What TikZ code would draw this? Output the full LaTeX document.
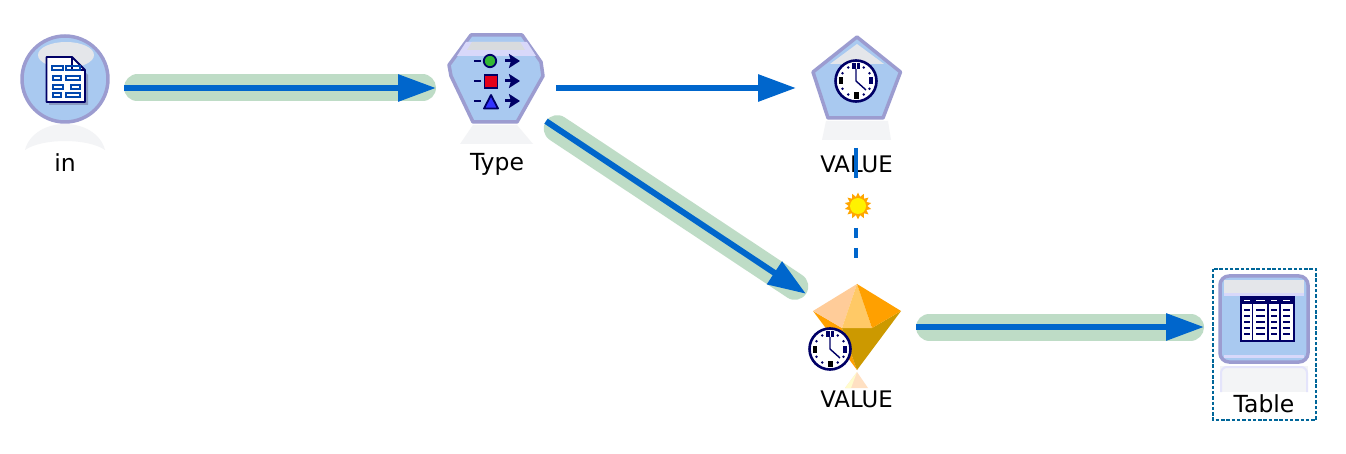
\documentclass[tikz,border=0pt]{standalone}
\usepackage{fontspec}
\setmainfont{DejaVu Sans}
\usetikzlibrary{arrows.meta,shapes.geometric}
\definecolor{iconfill}{HTML}{A9C9F0}
\definecolor{iconline}{HTML}{9C9CD0}
\definecolor{flow}{HTML}{0066CC}
\definecolor{band}{HTML}{BEDCC6}
\definecolor{navy}{HTML}{000066}
\definecolor{gleam}{HTML}{E4E6EA}
\definecolor{lav}{HTML}{D8D8FA}
\definecolor{selbox}{HTML}{006699}
\definecolor{gemA}{HTML}{FFCC99}
\definecolor{gemB}{HTML}{FFC966}
\definecolor{gemC}{HTML}{FFA000}
\definecolor{gemD}{HTML}{CC9900}
\definecolor{mirror}{HTML}{F3F4F6}
\tikzset{
  port/.style={circle,minimum size=#1,inner sep=0pt,outer sep=0pt,draw=none},
  port/.default=120pt,
  iconbody/.style={fill=iconfill,draw=iconline,line width=3.5pt,line join=round},
  glow/.style={fill=mirror,draw=none},
  caption/.style={font=\fontsize{23.5}{26}\selectfont,text=black,inner sep=0pt,anchor=base},
  capnarrow/.style={caption,font=\fontsize{22.8}{26}\selectfont},
  bandline/.style={band,line width=27pt,line cap=round,shorten <=13.5pt,shorten >=13.5pt},
  flowline/.style={flow,line width=6pt,-{Triangle[length=38pt,width=26pt]}},
  feature/.style={navy,line width=2.4pt},
  glyph/.style={navy,line width=3pt,-{Stealth[length=11pt,width=14pt,inset=2pt]}},
}
\newcommand{\clockicon}[2]{%
  \begin{scope}[shift={(#1,#2)}]
    \draw[navy,line width=2.6pt,fill=white] (0,0) circle (20.5pt);
    \foreach \a in {30,60,120,150,210,240,300,330}
      \fill[navy] (\a:15.5pt) circle (1.4pt);
    \fill[navy] (-4,-18) rectangle (-0.5,-12);
    \fill[navy] (0.5,-18) rectangle (4,-12);
    \fill[black] (-2.5,11.5) rectangle (2.5,18);
    \fill[black] (-17.5,-3.5) rectangle (-13,3.5);
    \fill[navy] (13,-3.5) rectangle (17,3.5);
    \draw[navy,line width=1.4pt] (0,-12) -- (0,0) -- (10,9);
  \end{scope}}
\begin{document}
\begin{tikzpicture}[x=1pt,y=-1pt]
\useasboundingbox (0,0) rectangle (1346,454);
\fill[white] (0,0) rectangle (1346,454);

% connector ports
\node[port=118pt] (in) at (65,88) {};
\node[port] (type) at (496,88) {};
\node[port] (clock) at (856,88) {};
\node[port] (diam) at (856,327) {};
\node[port] (table) at (1264,327) {};

% connectors
\draw[bandline] (in) -- (type);
\draw[bandline] (type) -- (diam);
\draw[bandline] (diam) -- (table);
\draw[flowline] (in) -- (type);
\draw[flowline] (type) -- (clock);
\draw[flowline] (type) -- (diam);
\draw[flowline] (diam) -- (table);

% source icon
\fill[glow] (25,150) .. controls (29,134) and (46,124) .. (65,124) .. controls (84,124) and (101,134) .. (105,150) .. controls (88,138) and (42,138) .. (25,150) -- cycle;
\draw[iconbody] (65,79) circle (43pt);
\fill[gleam] (66,55) ellipse (28pt and 13pt);
\fill[iconline!70!black,opacity=.5] (49,60) -- (74,60) -- (88,75) -- (88,105) -- (49,105) -- cycle;
\draw[navy,line width=1.8pt,fill=white,line join=round] (46.5,57) -- (72,57) -- (85,70) -- (85,102) -- (46.5,102) -- cycle;
\draw[navy,line width=1.4pt] (72,57) -- (72,70) -- (85,70);
\foreach \xa/\xb/\xc/\xd/\yy in {52/63/66/80/66, 53/61/66/80/76, 53/63/71/80/85, 53/61/66/80/93}{
  \draw[flow!70!navy,line width=1.3pt] (\xa,\yy) rectangle (\xb,\yy+4);
  \draw[flow!70!navy,line width=1.3pt] (\xc,\yy) rectangle (\xd,\yy+4);
}
\node[caption] (inlabel) at (65,171.5) {in};

% type icon
\fill[glow] (473,125) -- (517,125) -- (533,144) -- (460,144) -- cycle;
\draw[iconbody] (471,35) -- (522,35) -- (541,62) -- (543,76) -- (517,122) -- (473,122) -- (451,76) -- (449,65) -- cycle;
\fill[lav] (466,42) -- (527,42) -- (536,56) -- (457,56) -- cycle;
\fill[gleam!95!black] (472,42) -- (520,42) -- (525,50) -- (467,50) -- cycle;
\draw[feature] (474,61) -- (481,61);
\draw[navy,line width=1.8pt,fill=green!65!black!80!white] (490,61) circle (6.2pt);
\draw[glyph] (505,61) -- (520,61);
\draw[feature] (474,81) -- (481,81);
\draw[navy,line width=1.8pt,fill=red!80!violet] (484.5,75) rectangle (497.5,88);
\draw[glyph] (505,81) -- (520,81);
\draw[feature] (474,101) -- (481,101);
\draw[navy,line width=1.8pt,fill=blue!80!white,line join=round] (484,108.5) -- (491,95) -- (498,108.5) -- cycle;
\draw[glyph] (505,101) -- (520,101);
\node[caption] (typelabel) at (497,170.5) {Type};

% time series icon
\fill[glow] (826,121) -- (888,121) -- (891,140) -- (822,140) -- cycle;
\draw[iconbody] (857,37) -- (900.5,72) -- (883,118) -- (828,118) -- (813,72) -- cycle;
\fill[gleam] (857,44) -- (884,64) -- (830,64) -- cycle;
\clockicon{856}{81}
\node[capnarrow] (valuea) at (856.5,172.5) {VALUE};

% model link
\draw[flow,line width=4pt,dash pattern=on 30pt off 50pt on 10pt off 10pt on 10pt off 20pt] (clock) -- (diam);
\node[star,star points=14,star point ratio=1.45,minimum size=27pt,inner sep=0pt,fill=orange!70!yellow,draw=none] (spark) at (858,206) {};
\fill[yellow] (spark.center) circle (8pt);

% generated model icon
\fill[gemA!60!white] (857,372) -- (868,388) -- (845,388) -- cycle;
\fill[yellow!20] (857,372) -- (851,388) -- (845,388) -- cycle;
\fill[gemC] (813,311) -- (842,328) -- (857,370) -- cycle;
\fill[gemD] (842,328) -- (872,328) -- (901,311) -- (857,370) -- cycle;
\fill[gemA] (857,284) -- (813,311) -- (842,328) -- cycle;
\fill[gemB] (857,284) -- (842,328) -- (872,328) -- cycle;
\fill[gemC] (857,284) -- (901,311) -- (872,328) -- cycle;
\clockicon{830}{349}
\node[capnarrow] (valueb) at (856.5,407.5) {VALUE};

% table icon
\draw[selbox,line width=1.5pt,dash pattern=on 3.5pt off 1.8pt] (1213,269) rectangle (1316,420);
\fill[glow] (1220,366) rectangle (1308,392);
\draw[lav!70,line width=2pt,rounded corners=6pt] (1221,392) -- (1221,367) -- (1307,367) -- (1307,392);
\draw[iconbody,rounded corners=9pt] (1220,276) rectangle (1308,362);
\fill[gleam] (1224,280) rectangle (1304,293);
\fill[lav] (1224,293) rectangle (1304,296);
\fill[lav] (1224,355) rectangle (1304,358);
\fill[white] (1240,296) rectangle (1294,342);
\draw[navy,line width=2pt] (1241,297) rectangle (1293.5,341);
\fill[navy] (1241,297) rectangle (1293.5,304);
\foreach \cx in {1252.5,1268,1280}{\draw[navy,line width=1.6pt] (\cx,297) -- (\cx,341);}
\foreach \yy in {310,316,322,328,334}{
  \foreach \cxa/\cxb in {1244/1250,1256/1265,1271/1277,1283/1290}{
    \draw[navy,line width=1.3pt] (\cxa,\yy) -- (\cxb,\yy);}
}
\foreach \cxa/\cxb in {1244/1250,1256/1265,1271/1277,1283/1290}{
  \draw[white,line width=1.3pt] (\cxa,300.5) -- (\cxb,300.5);}
\node[caption] (tablelabel) at (1264,412) {Table};
\end{tikzpicture}
\end{document}
